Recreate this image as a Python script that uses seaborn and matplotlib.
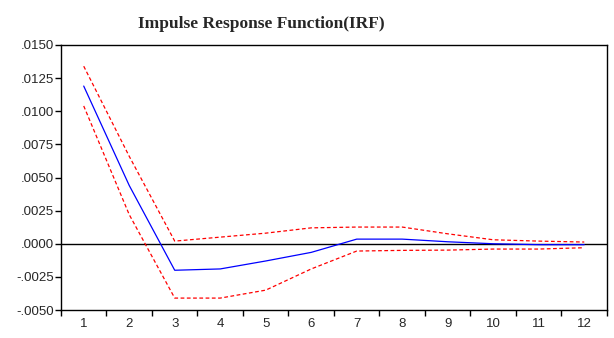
import numpy as np
import pandas as pd
import matplotlib
matplotlib.use("Agg")
import matplotlib.pyplot as plt
import seaborn as sns
from matplotlib.ticker import FuncFormatter, FixedLocator

periods = list(range(1, 13))
irf = [0.0119, 0.0044, -0.0020, -0.0019, -0.0013, -0.00065,
       0.00035, 0.00035, 0.00015, 0.0, -0.00007, -0.00007]
upper = [0.0134, 0.0066, 0.0002, 0.0005, 0.0008, 0.0012,
         0.00126, 0.00126, 0.00075, 0.0003, 0.0002, 0.00013]
lower = [0.0104, 0.0022, -0.0041, -0.0041, -0.0035, -0.0019,
         -0.00055, -0.0005, -0.00048, -0.0004, -0.0004, -0.0003]
y_ticks = [-0.005, -0.0025, 0.0, 0.0025, 0.005, 0.0075, 0.01, 0.0125, 0.015]


def eviews_fmt(v, pos):
    s = f"{v:.4f}"
    return s.replace("0.", ".", 1)


def main():
    sns.set_style("white")
    plt.rcParams['font.family'] = ['Liberation Sans', 'DejaVu Sans']

    df = pd.DataFrame({'period': periods, 'irf': irf,
                       'upper': upper, 'lower': lower})

    fig = plt.figure(figsize=(6.14, 3.38), dpi=100)
    ax = fig.add_axes([0.0993, 0.0828, 0.8893, 0.7841])

    ax.axhline(0, color='black', lw=1.0, zorder=1)
    sns.lineplot(data=df, x='period', y='irf', color='blue', lw=0.9, ax=ax, zorder=3)
    sns.lineplot(data=df, x='period', y='upper', color='red', lw=0.9,
                 linestyle=(0, (3, 2)), ax=ax, zorder=2)
    sns.lineplot(data=df, x='period', y='lower', color='red', lw=0.9,
                 linestyle=(0, (3, 2)), ax=ax, zorder=2)

    ax.set_xlim(0.5, 12.5)
    ax.set_ylim(-0.005, 0.015)
    ax.set_xlabel('')
    ax.set_ylabel('')

    ax.xaxis.set_major_locator(FixedLocator(periods))
    ax.xaxis.set_minor_locator(FixedLocator([p + 0.5 for p in range(0, 13)]))
    ax.set_xticklabels([str(p) for p in periods])
    ax.tick_params(axis='x', which='major', length=0, pad=6, labelsize=9.5)
    ax.tick_params(axis='x', which='minor', length=4, width=1, direction='out',
                   bottom=True, color='black')

    ax.yaxis.set_major_locator(FixedLocator(y_ticks))
    ax.yaxis.set_major_formatter(FuncFormatter(eviews_fmt))
    ax.tick_params(axis='y', length=4, width=1, direction='out', left=True,
                   labelsize=9.5, pad=1, color='black')

    for sp in ax.spines.values():
        sp.set_color('black')
        sp.set_linewidth(1.0)

    fig.text(0.425, 0.929, 'Impulse Response Function(IRF)', ha='center', va='center',
             fontsize=12.5, fontweight='bold', family=['Liberation Serif', 'DejaVu Serif'])

    fig.savefig('out.png', dpi=100)


if __name__ == "__main__":
    main()
